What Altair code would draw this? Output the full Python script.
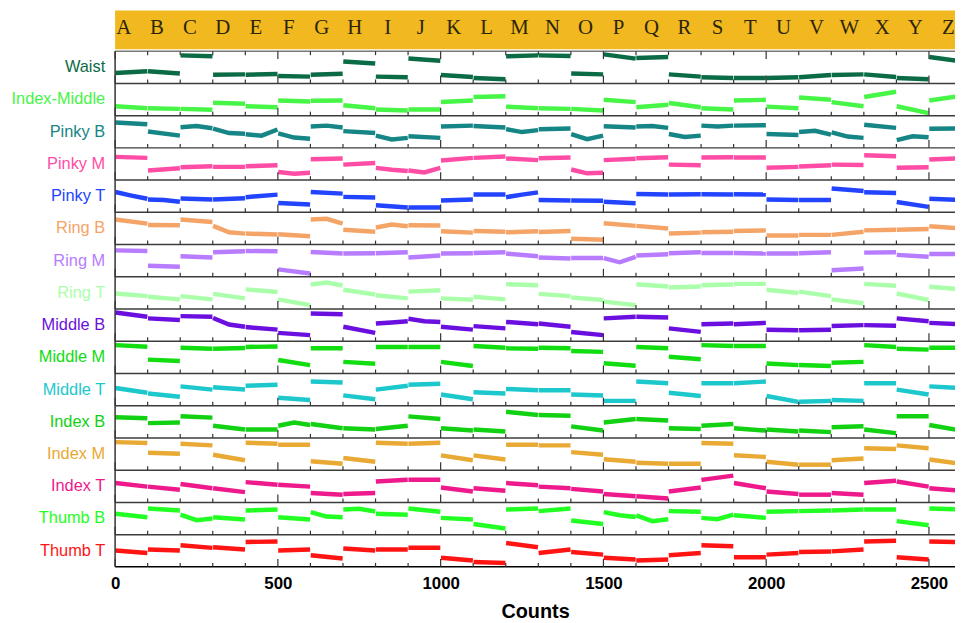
import altair as alt
import pandas as pd

letters = list("ABCDEFGHIJKLMNOPQRSTUVWXYZ")

channels = ["Waist", "Index-Middle", "Pinky B", "Pinky M", "Pinky T", "Ring B", "Ring M", "Ring T",
            "Middle B", "Middle M", "Middle T", "Index B", "Index M", "Index T", "Thumb B", "Thumb T"]
colors = ["#0B6B45", "#47F547", "#168585", "#FF4DA6", "#2244FF", "#F5A468", "#B77CFF", "#ABFFAB",
          "#6B0FE0", "#11DD11", "#1CC8CC", "#12D012", "#E8AA35", "#EE1A8C", "#22FF22", "#FF1414"]

# per-letter segment readings (percent of row height), evenly spaced inside each 100-count segment
waist = [[32, 38], [38, 31], [87, 84], [27, 28], [27, 29], [23, 21], [27, 30], [68, 62], [21, 19], [77, 70], [26, 20],
         [17, 13], [84, 87], [87, 85], [31, 28], [90, 77], [79, 82], [28, 21], [19, 17], [17, 17], [17, 19], [19, 26],
         [26, 28], [28, 20], [17, 13], [82, 68]]
index_middle = [[29, 23], [23, 21], [21, 18], [40, 37], [29, 26], [47, 44], [46, 47], [32, 23], [19, 16], [19, 19], [42, 47],
                [58, 60], [28, 23], [23, 21], [21, 16], [49, 42], [26, 34], [39, 26], [23, 19], [47, 49], [28, 23], [56, 49],
                [42, 29], [58, 74], [29, 8], [47, 61]]
pinky_b = [[79, 73], [51, 38], [64, 68, 61], [60, 46, 44], [42, 38, 57], [45, 32, 28], [66, 69, 63], [52, 46], [38, 26, 31],
           [36, 31], [66, 69], [68, 63], [58, 49, 55], [58, 60], [43, 27, 38], [67, 63], [66, 68, 62], [43, 34, 38],
           [69, 66, 69], [69, 70], [43, 40], [49, 53, 41], [48, 35, 31], [72, 62], [24, 36, 33], [59, 60]]
pinky_m = [[72, 69], [30, 37], [40, 43], [41, 41], [43, 46], [25, 20, 23], [65, 67], [48, 53], [38, 32, 28], [30, 24, 38],
           [61, 69], [69, 73], [67, 62], [68, 70], [33, 21, 23], [62, 66], [68, 71], [48, 46], [70, 71], [70, 70], [38, 41],
           [42, 46], [48, 47], [77, 74], [38, 40], [64, 68]]
pinky_t = [[63, 52, 42], [40, 38, 33], [43, 40], [40, 44], [47, 55], [29, 24], [63, 58], [48, 46], [22, 15], [15, 15],
           [37, 40], [55, 55], [47, 55, 62], [38, 37], [37, 36], [33, 28], [57, 55], [55, 56], [56, 55], [56, 55], [40, 38],
           [38, 38], [74, 66], [62, 60], [32, 17], [42, 38]]
ring_b = [[78, 65], [61, 60], [78, 70], [58, 38, 34], [34, 31], [32, 26], [78, 80, 65], [46, 40], [53, 62, 57], [60, 59],
          [41, 37], [42, 40], [38, 41], [39, 42], [18, 15], [66, 58], [58, 50], [34, 37], [38, 40], [42, 44], [28, 28],
          [30, 30], [30, 40], [44, 46], [46, 48], [57, 50]]
ring_m = [[82, 80], [34, 31], [64, 60], [76, 79], [80, 79], [23, 10], [77, 72], [72, 73], [73, 76], [60, 66], [72, 73],
          [74, 76], [72, 64], [60, 57], [58, 58], [58, 45, 62], [66, 70], [73, 76], [74, 74], [74, 72], [72, 72], [73, 76],
          [20, 26], [75, 76], [68, 62], [71, 71]]
ring_t = [[48, 40], [38, 30], [40, 30], [47, 40, 33], [61, 53], [30, 12], [76, 82, 73], [60, 45], [43, 33], [54, 58],
          [33, 29], [38, 30], [77, 74], [47, 40], [36, 28], [23, 12], [77, 70], [67, 70], [74, 76], [78, 78], [60, 50],
          [54, 40], [30, 18], [78, 72], [48, 28], [69, 61]]
middle_b = [[89, 76], [71, 66], [78, 76], [72, 52, 45], [44, 36], [26, 19], [86, 84], [45, 26], [55, 58, 62], [70, 62, 60],
            [45, 36], [47, 40], [60, 53], [55, 45], [29, 19], [71, 76], [76, 74], [40, 29], [53, 55], [53, 57], [36, 34],
            [34, 36], [47, 50], [50, 48], [71, 62], [57, 53]]
middle_m = [[88, 83], [43, 39], [80, 77], [77, 79], [82, 84], [42, 26], [78, 78], [36, 30], [82, 82], [82, 82], [36, 23],
            [85, 80], [78, 77], [80, 78], [70, 67], [32, 24], [82, 78], [52, 44], [88, 85], [85, 85], [31, 26], [26, 23],
            [33, 36], [88, 82], [77, 74], [80, 80]]
middle_t = [[55, 40], [38, 28], [60, 50], [57, 50], [62, 65], [25, 18], [75, 72], [32, 20], [50, 62], [65, 68], [35, 20],
            [42, 38], [52, 48], [48, 48], [35, 32], [15, 15], [75, 70], [40, 30], [70, 70], [70, 75], [30, 12], [12, 15],
            [18, 15], [70, 70], [50, 35], [60, 55]]
index_b = [[64, 61], [46, 48], [67, 63], [38, 26], [26, 26], [38, 48, 40], [43, 30], [30, 26], [28, 38], [67, 59], [30, 23],
           [26, 20], [81, 71], [71, 69], [36, 23], [48, 59], [59, 54], [30, 28], [38, 43], [30, 23], [26, 20], [23, 18],
           [33, 36], [26, 15], [67, 67], [40, 23]]
index_m = [[87, 84], [54, 51], [82, 77], [48, 31], [85, 82], [79, 79], [28, 20], [38, 26], [85, 82], [82, 85], [46, 31],
           [46, 33], [79, 79], [77, 77], [56, 48], [34, 26], [23, 20], [20, 20], [84, 82], [46, 41], [26, 17], [17, 17],
           [31, 36], [68, 66], [77, 68], [33, 20]]
index_t = [[60, 49], [49, 39], [57, 44], [44, 32], [63, 55], [55, 49], [29, 24], [26, 29], [65, 70], [70, 70], [46, 34],
           [44, 36], [60, 53], [49, 44], [42, 34], [26, 19], [19, 12], [34, 46], [70, 83], [60, 44], [34, 26], [24, 24],
           [29, 24], [60, 67], [65, 49], [44, 36]]
thumb_b = [[65, 54], [81, 75], [62, 45, 50], [54, 47], [75, 78], [54, 47], [70, 56, 54], [78, 80, 72], [65, 62], [81, 71],
           [52, 47], [33, 19], [78, 81], [73, 81], [44, 33], [70, 60, 55], [60, 42, 48], [73, 71], [52, 48, 62],
           [60, 56, 52], [71, 73], [73, 75], [75, 78], [78, 78], [42, 29], [81, 78]]
thumb_t = [[51, 43], [54, 51], [67, 59], [61, 54], [77, 79], [51, 54], [36, 26], [57, 51], [54, 54], [59, 59], [28, 20],
           [15, 12], [74, 61], [43, 54], [46, 38], [28, 23], [20, 23], [36, 43], [67, 64], [30, 30], [38, 43], [46, 48],
           [48, 54], [79, 81], [30, 23], [79, 77]]

series = [waist, index_middle, pinky_b, pinky_m, pinky_t, ring_b, ring_m, ring_t,
          middle_b, middle_m, middle_t, index_b, index_m, index_t, thumb_b, thumb_t]

x_ticks = list(range(0, 2600, 100))
x_labels = [0, 500, 1000, 1500, 2000, 2500]

X_MAX = 2580
N = len(channels)
TOP = 17.26
UNIT_PX = 32.5

xs = alt.Scale(domain=[0, X_MAX], nice=False, zero=False)
ys = alt.Scale(domain=[0, TOP], nice=False, zero=False)
cs = alt.Scale(domain=channels, range=colors)
x_axis = alt.Axis(values=x_labels, format="d", ticks=False, domain=False, grid=False,
                  labelFlush=False, labelOverlap=False,
                  labelFont="Liberation Sans", labelFontSize=17, labelFontWeight="bold",
                  labelColor="black", labelPadding=9, title="Counts",
                  titleFont="Liberation Sans", titleFontSize=20, titleFontWeight="bold",
                  titleColor="black", titlePadding=10)


def X(field):
    return alt.X(field, scale=xs, axis=x_axis)


def Y(field):
    return alt.Y(field, scale=ys, axis=None)


rows = []
for r, (name, segs) in enumerate(zip(channels, series)):
    base = N - 1 - r
    for s, vals in enumerate(segs):
        x0, x1 = s * 100 + 1, s * 100 + 99
        n = len(vals)
        for k, v in enumerate(vals):
            rows.append({"name": name, "seg": f"{r}-{s}",
                         "x": x0 + (x1 - x0) * k / (n - 1), "y": base + v / 100})
line_df = pd.DataFrame(rows)

lines = alt.Chart(line_df).mark_line(strokeWidth=4.5, clip=True, strokeCap="butt").encode(
    x=X("x:Q"), y=Y("y:Q"), detail="seg:N",
    color=alt.Color("name:N", scale=cs, legend=None),
)

band_df = pd.DataFrame([{"x0": 0, "x1": X_MAX, "y0": 16.06, "y1": TOP}])
band = alt.Chart(band_df).mark_rect(color="#F1B91F").encode(
    x=X("x0:Q"), x2="x1", y=Y("y0:Q"), y2="y1")

let_df = pd.DataFrame({"letter": letters, "x": [27 + i * 101.3 for i in range(len(letters))]})
let_df["y"] = 16.71
letter_text = alt.Chart(let_df).mark_text(font="Liberation Serif", fontSize=21, color="#2d2508",
                                          baseline="middle", align="center").encode(
    x=X("x:Q"), y=Y("y:Q"), text="letter:N")


def hline(yvals, color):
    df = pd.DataFrame({"y": yvals})
    df["x0"] = 0
    df["x1"] = X_MAX
    return alt.Chart(df).mark_rule(strokeWidth=1.5, color=color).encode(x=X("x0:Q"), x2="x1", y=Y("y:Q"))


bottom_line = hline([0], "#000000")
mid_lines = hline(list(range(1, N)), "#3c3c3c")
top_line = hline([N], "#7a7a7a")

left_df = pd.DataFrame([{"x": 0, "y0": 0, "y1": N}])
left = alt.Chart(left_df).mark_rule(strokeWidth=1.5, color="#333333").encode(
    x=X("x:Q"), y=Y("y0:Q"), y2="y1")

tick_rows = []
for b in range(0, N + 1):
    for t in x_ticks:
        ln = (8 if t % 500 == 0 else 4) / UNIT_PX
        if b == N:
            tick_rows.append({"x": t, "y0": b - ln, "y1": b})
        else:
            tick_rows.append({"x": t, "y0": b, "y1": b + ln})
tick_df = pd.DataFrame(tick_rows)
ticks = alt.Chart(tick_df).mark_rule(strokeWidth=1.2, color="#333333").encode(
    x=X("x:Q"), y=Y("y0:Q"), y2="y1")

lab_df = pd.DataFrame({"name": channels, "y": [N - 1 - r + 0.5 for r in range(N)]})
labels = alt.Chart(lab_df).mark_text(align="right", baseline="middle", font="Liberation Sans",
                                     fontSize=16.5).encode(
    x=alt.value(-10), y=Y("y:Q"), text="name:N",
    color=alt.Color("name:N", scale=cs, legend=None))

chart = alt.layer(band, letter_text, lines, mid_lines, top_line, bottom_line, ticks, left, labels).properties(
    width=847, height=561,
    padding={"left": 108, "top": 0, "right": 0, "bottom": 52},
    autosize=alt.AutoSizeParams(type="none"),
).configure_view(stroke=None)

chart.save("out.html", embed_options={"renderer": "svg", "actions": False})
